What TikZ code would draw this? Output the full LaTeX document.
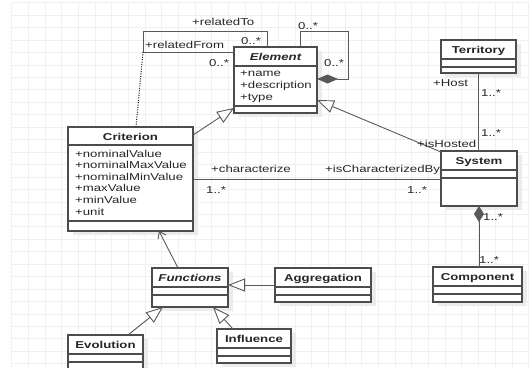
\documentclass[tikz,border=0pt]{standalone}
\usepackage{fontspec}
\setmainfont{Liberation Sans}[FakeStretch=1.32]
\usetikzlibrary{arrows.meta, positioning, shadows}

\begin{document}
\begin{tikzpicture}[
    x=1pt, y=-1pt,
    font=\fontsize{10}{12}\selectfont,
    classbox/.style={rectangle, draw=black!70, line width=1.1pt, fill=white, anchor=north west, inner sep=0pt, outer sep=0pt,
        drop shadow={shadow xshift=5pt, shadow yshift=-4pt, fill=black!8, opacity=1}},
    classtitle/.style={anchor=base, inner sep=0pt, font=\fontsize{10}{12}\selectfont\bfseries, text=black!85},
    attr/.style={anchor=base west, inner sep=0pt, text=black!85},
    lbl/.style={anchor=west, inner sep=0pt, text height=7pt, text depth=0pt, text=black!85},
    sep/.style={draw=black!70, line width=1.1pt},
    link/.style={draw=black!65, line width=0.9pt},
    gen/.style={link, -{Triangle[fill=white, length=17pt, width=13pt]}},
    comp/.style={link, {Diamond[length=16pt, width=10pt]}-},
    gridline/.style={draw=black!6, line width=0.6pt}
]
    \useasboundingbox (0,0) rectangle (529,367);
    \clip (0,0) rectangle (529,367);

    % Background grid
    \foreach \gx in {0,...,31}
        \draw[gridline] ({11.7+16.67*\gx},2.6) -- ({11.7+16.67*\gx},367);
    \foreach \gy in {0,...,29}
        \draw[gridline] (11.7,{2.6+12.45*\gy}) -- (529,{2.6+12.45*\gy});

    % Classes
    \node[classbox, minimum width=83pt, minimum height=66pt] (elem) at (234,47) {};
    \node[classbox, minimum width=125pt, minimum height=104pt] (crit) at (68,127) {};
    \node[classbox, minimum width=75pt, minimum height=33pt] (terr) at (441,40) {};
    \node[classbox, minimum width=76pt, minimum height=55pt] (sys) at (441,151) {};
    \node[classbox, minimum width=89pt, minimum height=35pt] (comp) at (433,267) {};
    \node[classbox, minimum width=76pt, minimum height=39pt] (func) at (152,268) {};
    \node[classbox, minimum width=96pt, minimum height=34pt] (agg) at (275,268) {};
    \node[classbox, minimum width=75pt, minimum height=40pt] (evo) at (68,335) {};
    \node[classbox, minimum width=74pt, minimum height=34pt] (infl) at (217,329) {};

    % Compartments
    \draw[sep] ([yshift=-19pt]elem.north west) -- ([yshift=-19pt]elem.north east);
    \draw[sep] ([yshift=-59pt]elem.north west) -- ([yshift=-59pt]elem.north east);
    \draw[sep] ([yshift=-18pt]crit.north west) -- ([yshift=-18pt]crit.north east);
    \draw[sep] ([yshift=-94pt]crit.north west) -- ([yshift=-94pt]crit.north east);
    \foreach \c in {terr, sys, comp, func, agg, evo, infl} {
        \draw[sep] ([yshift=-19pt]\c.north west) -- ([yshift=-19pt]\c.north east);
        \draw[sep] ([yshift=-27pt]\c.north west) -- ([yshift=-27pt]\c.north east);
    }

    % Class names
    \node[classtitle] (elem-t) at ([yshift=-13pt]elem.north) {\itshape Element};
    \node[classtitle] (crit-t) at ([yshift=-13pt]crit.north) {Criterion};
    \node[classtitle] (terr-t) at ([yshift=-13pt]terr.north) {Territory};
    \node[classtitle] (sys-t) at ([yshift=-13pt]sys.north) {System};
    \node[classtitle] (comp-t) at ([yshift=-13.5pt]comp.north) {Component};
    \node[classtitle] (func-t) at ([yshift=-13pt]func.north) {\itshape Functions};
    \node[classtitle] (agg-t) at ([yshift=-13pt]agg.north) {Aggregation};
    \node[classtitle] (evo-t) at ([yshift=-13pt]evo.north) {Evolution};
    \node[classtitle] (infl-t) at ([yshift=-13.5pt]infl.north) {Influence};

    % Attributes
    \foreach \a [count=\i] in {name, description, type}
        \node[attr] (elem-a\i) at (240,{64+12*\i}) {+\a};
    \foreach \a [count=\i] in {nominalValue, nominalMaxValue, nominalMinValue, maxValue, minValue, unit}
        \node[attr] (crit-a\i) at (75,{145.4+11.6*\i}) {+\a};

    % Generalizations
    \draw[gen] ([yshift=-8pt]crit.north east) -- ([yshift=5pt]elem.south west);
    \draw[gen] ([yshift=-1pt]sys.north west) -- ([yshift=13pt]elem.south east);
    \draw[gen] (agg.west) -- (agg.west -| func.east);
    \draw[gen] ([xshift=60pt]evo.north west) -- ([xshift=11pt]func.south west);
    \draw[gen] ([xshift=16pt]infl.north west) -- ([xshift=61pt]func.south west);

    % Navigable link
    \draw[link, -{Straight Barb[length=6pt, width=9pt]}] ([xshift=26pt]func.north west) -- ([xshift=91pt]crit.south west);

    % Associations
    \draw[link] (crit.east) -- (crit.east -| sys.west);
    \draw[link] (terr.south) -- (terr.south |- sys.north);
    \draw[comp] (sys.south) -- (sys.south |- comp.north);

    % Element self composition
    \draw[link, {Diamond[length=21pt, width=9pt]}-] ([yshift=-32pt]elem.north east) -| ++(31,-48) -| ([xshift=-17pt]elem.north east);

    % relatedTo / relatedFrom loop
    \coordinate (relcorner) at (143,52);
    \draw[link] ([xshift=33pt]elem.north west) |- (relcorner |- 0,31) -- (relcorner) -- ([yshift=-5pt]elem.north west);
    \draw[link, draw=black!85, line width=1.1pt, dash pattern=on 1pt off 1.4pt] (relcorner) -- ([xshift=68pt]crit.north west);

    % Role names and multiplicities
    \node[lbl] (l-relto) at (192,22) {+relatedTo};
    \node[lbl] (m-relto) at (241,41) {0..*};
    \node[lbl] (l-relfrom) at (145,45) {+relatedFrom};
    \node[lbl] (m-relfrom) at (209,63) {0..*};
    \node[lbl] (m-self1) at (298,26) {0..*};
    \node[lbl] (m-self2) at (324,63) {0..*};
    \node[lbl] (l-host) at (433,83) {+Host};
    \node[lbl] (m-host1) at (481,93) {1..*};
    \node[lbl] (m-host2) at (481,133) {1..*};
    \node[lbl] (l-hosted) at (417,144) {+isHosted};
    \node[lbl] (l-char) at (211,169) {+characterize};
    \node[lbl] (l-charby) at (325,169) {+isCharacterizedBy};
    \node[lbl] (m-char1) at (206,190) {1..*};
    \node[lbl] (m-char2) at (407,190) {1..*};
    \node[lbl] (m-comp1) at (483,217) {1..*};
    \node[lbl] (m-comp2) at (479,260) {1..*};
\end{tikzpicture}
\end{document}
